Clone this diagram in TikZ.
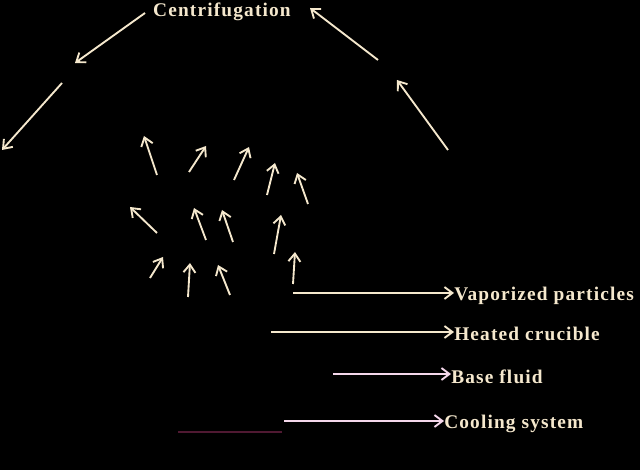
\documentclass[tikz,border=0pt]{standalone}
\usepackage{fontspec}
\setmainfont{Liberation Serif}[LetterSpace=6]
\usetikzlibrary{arrows.meta}
\definecolor{cream}{RGB}{245,232,205}
\definecolor{pinkish}{RGB}{245,215,235}
\definecolor{maroon}{RGB}{80,25,50}
\tikzset{
  arr/.style={-{Straight Barb[length=6pt,width=9pt]}, line width=1.4pt, draw=cream},
  lbl/.style={text=cream, font=\bfseries\fontsize{14.5}{16}\selectfont, inner sep=0pt}
}
\begin{document}
\begin{tikzpicture}[x=0.75pt, y=-0.75pt]
\fill[black] (0,0) rectangle (640,470);
\useasboundingbox (0,0) rectangle (640,470);
% labels
\node[lbl] (cent) at (222,12) {Centrifugation};
\node[lbl, anchor=west] (vap) at (454,296) {Vaporized particles};
\node[lbl, anchor=west] (heat) at (454,334) {Heated crucible};
\node[lbl, anchor=west] (base) at (451,377) {Base fluid};
\node[lbl, anchor=west] (cool) at (444,424) {Cooling system};
% centrifugation arrows
\coordinate (c1s) at (145,13);   \coordinate (c1) at (75,63);
\coordinate (c2s) at (62,83);    \coordinate (c2) at (2,150);
\coordinate (c3s) at (378,60);   \coordinate (c3) at (310,8);
\coordinate (c4s) at (448,150);  \coordinate (c4) at (397,80);
\path (c1s) edge[arr] (c1);
\path (c2s) edge[arr] (c2);
\path (c3s) edge[arr] (c3);
\path (c4s) edge[arr] (c4);
% vapour particles
\coordinate (p1s) at (157,175);  \coordinate (p1) at (144,136);
\coordinate (p2s) at (189,172);  \coordinate (p2) at (206,146);
\coordinate (p3s) at (234,180);  \coordinate (p3) at (249,147);
\coordinate (p4s) at (267,195);  \coordinate (p4) at (275,163);
\coordinate (p5s) at (308,204);  \coordinate (p5) at (297,173);
\coordinate (p6s) at (157,233);  \coordinate (p6) at (130,207);
\coordinate (p7s) at (206,240);  \coordinate (p7) at (194,208);
\coordinate (p8s) at (233,242);  \coordinate (p8) at (222,210);
\coordinate (p9s) at (274,254);  \coordinate (p9) at (281,215);
\coordinate (p10s) at (293,284); \coordinate (p10) at (295,252);
\coordinate (p11s) at (150,278); \coordinate (p11) at (163,257);
\coordinate (p12s) at (188,297); \coordinate (p12) at (190,263);
\coordinate (p13s) at (230,295); \coordinate (p13) at (218,265);
\path (p1s) edge[arr] (p1);
\path (p2s) edge[arr] (p2);
\path (p3s) edge[arr] (p3);
\path (p4s) edge[arr] (p4);
\path (p5s) edge[arr] (p5);
\path (p6s) edge[arr] (p6);
\path (p7s) edge[arr] (p7);
\path (p8s) edge[arr] (p8);
\path (p9s) edge[arr] (p9);
\path (p10s) edge[arr] (p10);
\path (p11s) edge[arr] (p11);
\path (p12s) edge[arr] (p12);
\path (p13s) edge[arr] (p13);
% pointers to labels
\coordinate (vs) at (293,293);
\coordinate (hs) at (271,332);
\coordinate (bs) at (333,374);
\coordinate (cs) at (284,421);
\path (vs) edge[arr] (vs -| vap.west);
\path (hs) edge[arr] (hs -| heat.west);
\path (bs) edge[arr, draw=pinkish] (bs -| base.west);
\path (cs) edge[arr, draw=pinkish] (cs -| cool.west);
\coordinate (m1) at (178,432);
\coordinate (m2) at (282,432);
\draw [line width=1pt, maroon] (m1) -- (m2);
\end{tikzpicture}
\end{document}
